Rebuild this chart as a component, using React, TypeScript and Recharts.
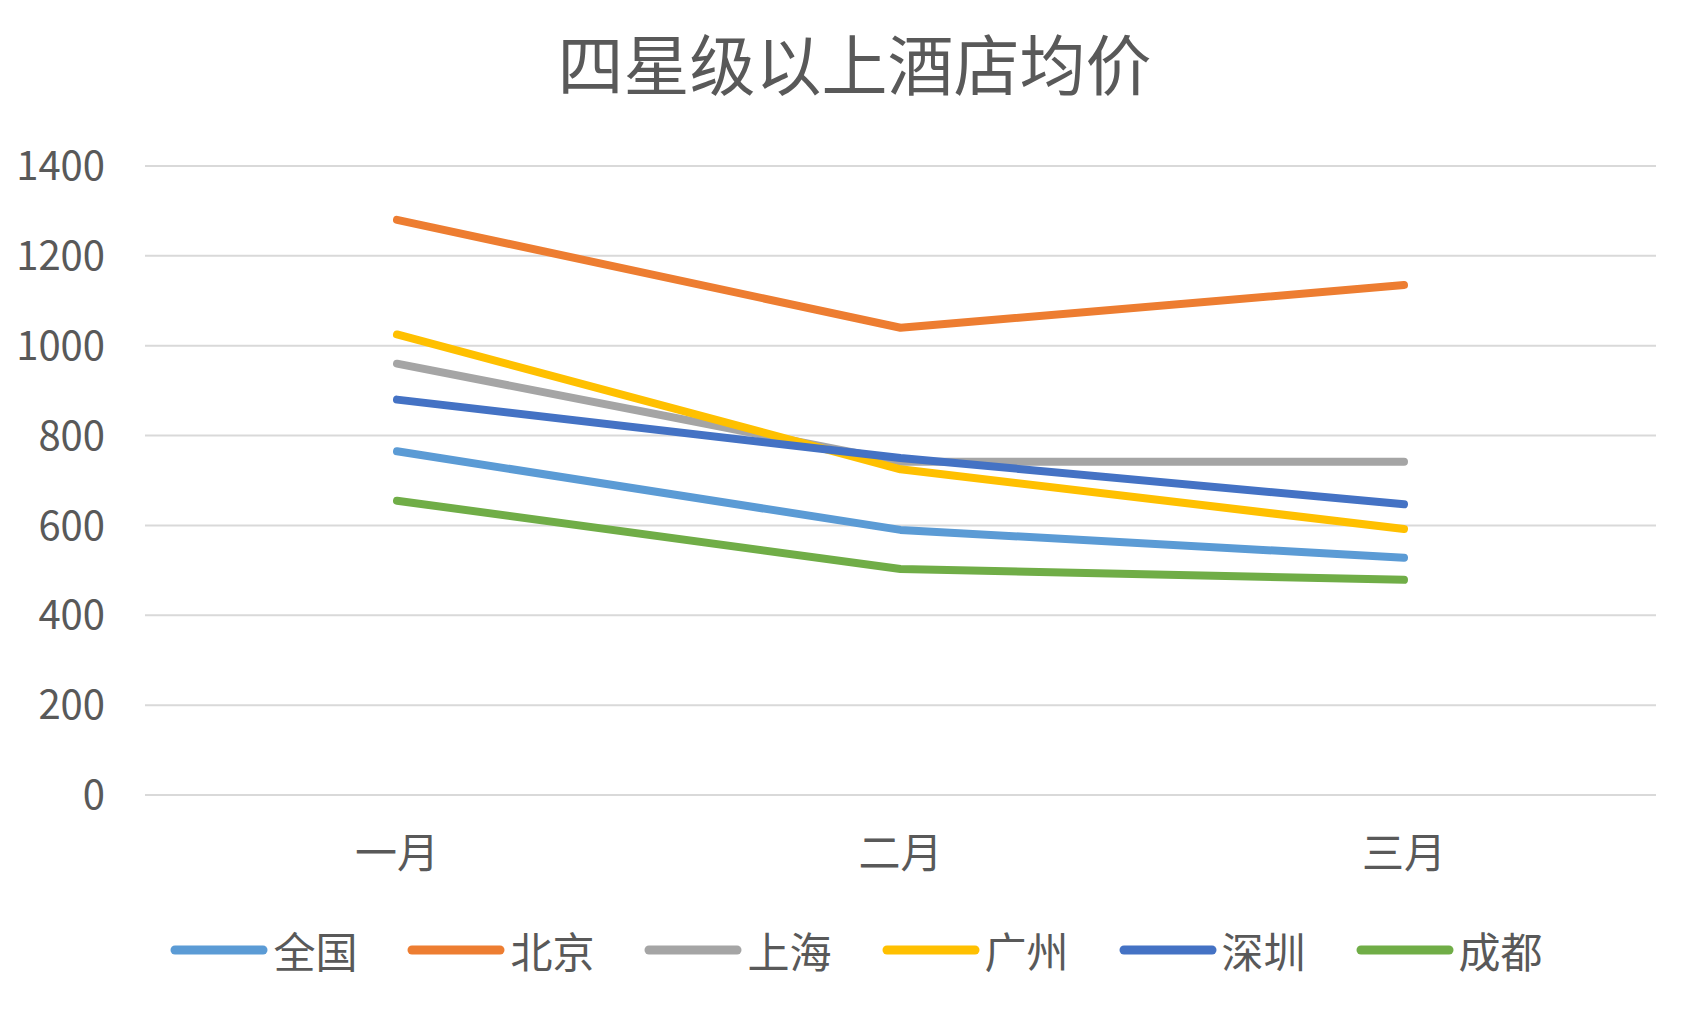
import React from 'react';
import { LineChart, Line, XAxis, YAxis, CartesianGrid, Legend } from 'recharts';

const months = ['一月', '二月', '三月'];
const nationwide = [765, 590, 528];
const beijing = [1280, 1040, 1135];
const shanghai = [960, 742, 742];
const guangzhou = [1025, 725, 592];
const shenzhen = [880, 750, 647];
const chengdu = [655, 503, 479];
const yTicks = [0, 200, 400, 600, 800, 1000, 1200, 1400];

const seriesNames = ['全国', '北京', '上海', '广州', '深圳', '成都'];
const seriesValues = [nationwide, beijing, shanghai, guangzhou, shenzhen, chengdu];
const seriesColors = ['#5B9BD5', '#ED7D31', '#A5A5A5', '#FFC000', '#4472C4', '#70AD47'];

const data = months.map((m, i) => {
  const row: Record<string, any> = { month: m };
  seriesNames.forEach((n, k) => {
    row[n] = seriesValues[k][i];
  });
  return row;
});

const FONT = '"Noto Sans CJK SC", "Noto Sans", sans-serif';
const TEXT = '#595959';

const LegendContent = (props: any) => {
  const payload = [...(props.payload || [])].sort(
    (a: any, b: any) => seriesNames.indexOf(a.value) - seriesNames.indexOf(b.value)
  );
  return (
    <div
      style={{
        display: 'flex',
        justifyContent: 'center',
        alignItems: 'center',
        height: 60,
        paddingLeft: 12,
        fontFamily: FONT,
        fontSize: 42,
        color: TEXT,
      }}
    >
      {payload.map((p: any, i: number) => (
        <div
          key={i}
          style={{ display: 'flex', alignItems: 'center', marginRight: i < payload.length - 1 ? 50 : 0 }}
        >
          <svg width={98} height={14} style={{ display: 'block' }}>
            <line x1={5} y1={7} x2={93} y2={7} stroke={p.color} strokeWidth={9} strokeLinecap="round" />
          </svg>
          <span style={{ marginLeft: 5, lineHeight: '60px' }}>{p.value}</span>
        </div>
      ))}
    </div>
  );
};

export default function App() {
  return (
    <div
      style={{
        position: 'absolute',
        left: 0,
        top: 0,
        width: 1701,
        height: 1012,
        background: '#ffffff',
        overflow: 'hidden',
      }}
    >
      <div
        style={{
          position: 'absolute',
          left: 0,
          top: 28,
          width: 1701,
          textAlign: 'center',
          fontFamily: FONT,
          fontSize: 66,
          lineHeight: '66px',
          color: TEXT,
          paddingLeft: 4,
        }}
      >
        四星级以上酒店均价
      </div>
      <LineChart
        width={1701}
        height={1012}
        data={data}
        margin={{ top: 166, right: 45, left: 0, bottom: 32 }}
      >
        <CartesianGrid vertical={false} stroke="#D9D9D9" strokeWidth={2} />
        <XAxis
          dataKey="month"
          axisLine={false}
          tickLine={false}
          tickSize={0}
          tickMargin={43}
          height={125}
          padding={{ left: 252, right: 252 }}
          tick={{ fill: TEXT, fontSize: 42, fontFamily: FONT }}
          interval={0}
        />
        <YAxis
          domain={[0, 1400]}
          ticks={yTicks}
          axisLine={false}
          tickLine={false}
          tickSize={0}
          tickMargin={40}
          width={145}
          tick={{ fill: TEXT, fontSize: 40, fontFamily: FONT }}
          interval={0}
        />
        <Legend
          verticalAlign="bottom"
          content={<LegendContent />}
          wrapperStyle={{ left: 0, width: 1701 }}
        />
        {seriesNames.map((n, k) => (
          <Line
            key={n}
            type="linear"
            dataKey={n}
            name={n}
            stroke={seriesColors[k]}
            strokeWidth={8}
            strokeLinecap="round"
            strokeLinejoin="round"
            dot={false}
            activeDot={false}
            isAnimationActive={false}
          />
        ))}
      </LineChart>
    </div>
  );
}
